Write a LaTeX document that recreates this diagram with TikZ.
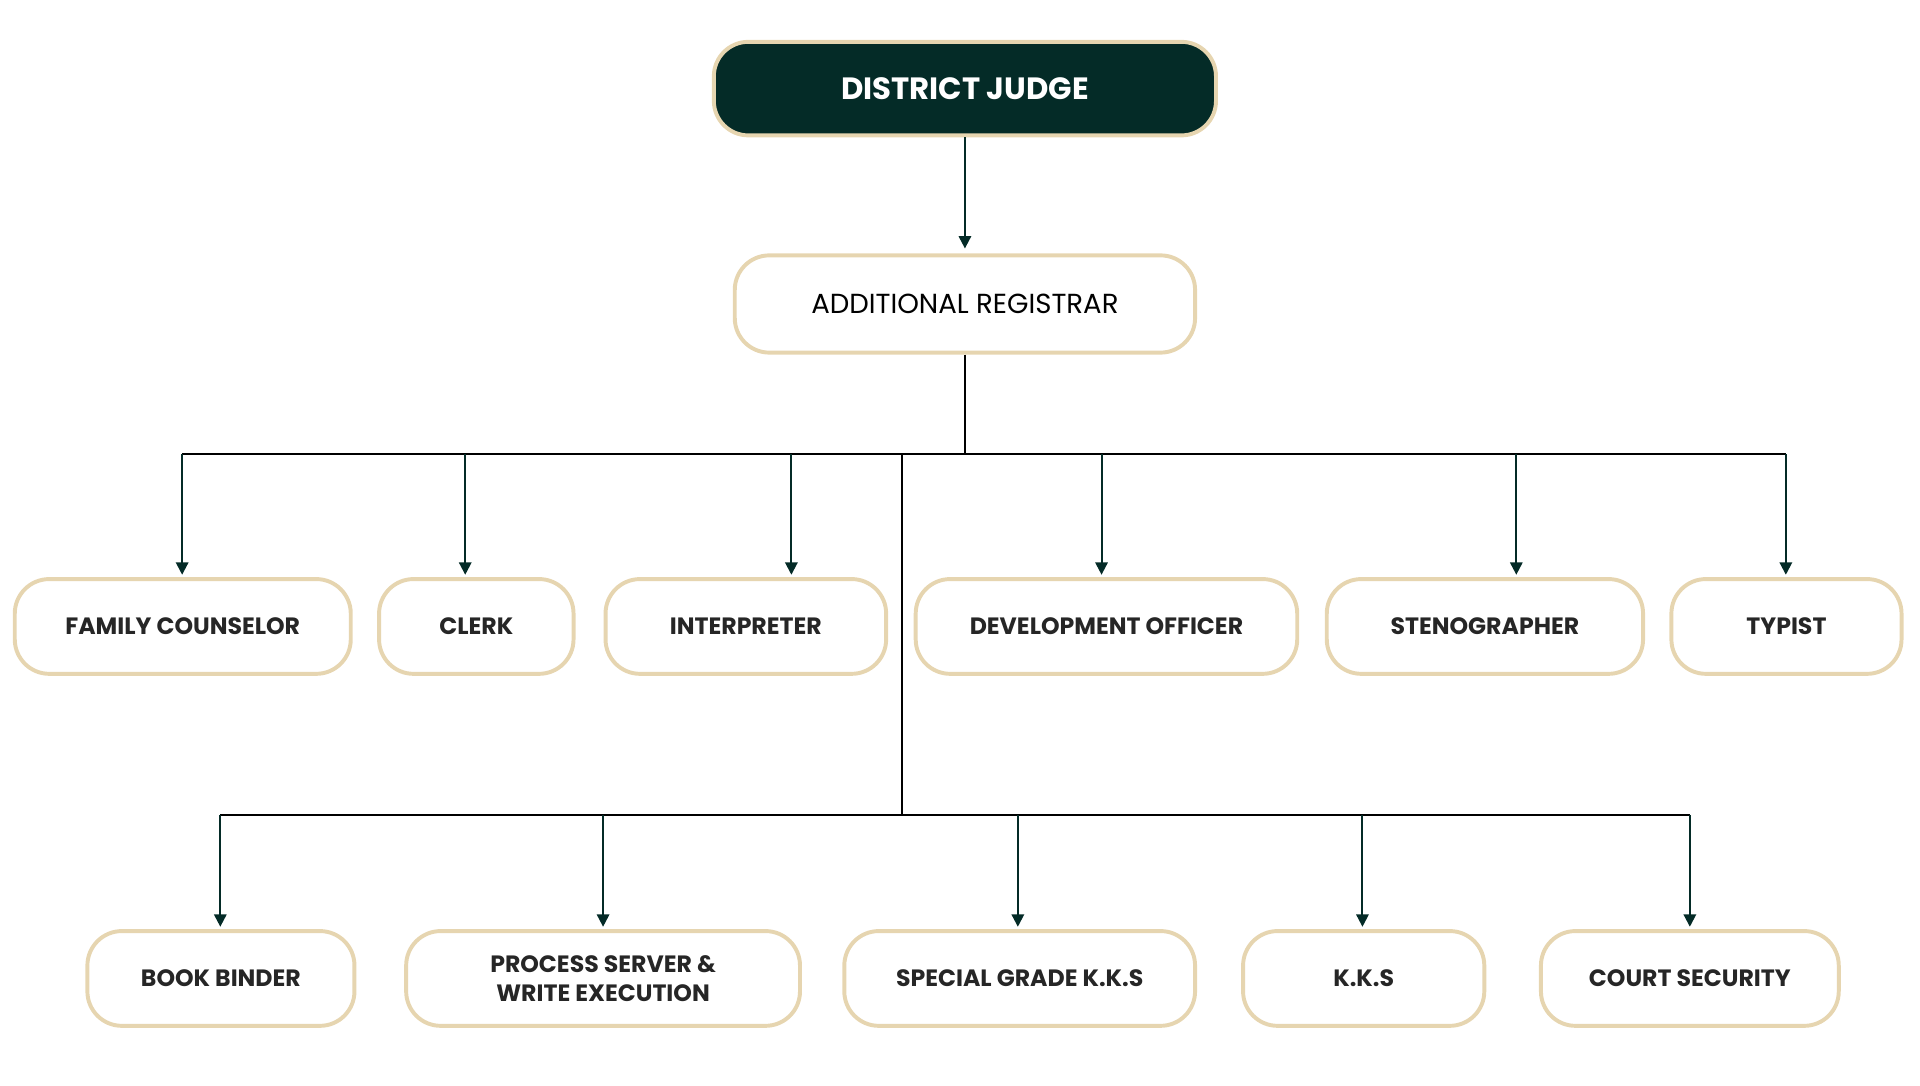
\documentclass[tikz,border=0pt]{standalone}
\usepackage{fontspec}
\setmainfont{Poppins}
\usetikzlibrary{arrows.meta}
\definecolor{dk}{HTML}{042B27}
\definecolor{bd}{HTML}{E6D5B0}
\begin{document}
\begin{tikzpicture}[x=0.5pt,y=-0.5pt,
 box/.style={draw=bd,line width=1.6pt,fill=white,rounded corners=14pt,align=center,font=\bfseries\fontsize{9.6}{12}\selectfont,text=black!85},
 ln/.style={draw=black,line width=0.8pt},
 ar/.style={ln,-{Triangle[length=5pt,width=5pt]},color=dk}]
\useasboundingbox (0,0) rectangle (1560,881.6);
\node[box,fill=dk,text=white,minimum width=204pt,minimum height=38pt,font=\bfseries\fontsize{12.5}{14}\selectfont] (dj) at (784,72) {DISTRICT JUDGE};
\node[box,minimum width=187pt,minimum height=39.5pt,font=\fontsize{11.2}{13}\selectfont,text=black] (ar) at (784,247) {ADDITIONAL REGISTRAR};
\foreach \n/\x/\w/\t in {fc/148.5/273/FAMILY COUNSELOR,cl/387/158/CLERK,in/606/228/INTERPRETER,dv/899/310/DEVELOPMENT OFFICER,st/1206.5/257/STENOGRAPHER,ty/1451.5/187/TYPIST}
  \node[box,minimum width=\w*0.5pt,minimum height=38.5pt] (\n) at (\x,509) {\t};
\foreach \n/\x/\w/\t in {bb/179.5/217/BOOK BINDER,ps/490/320/{PROCESS SERVER \&\\WRITE EXECUTION},sg/828.5/285/SPECIAL GRADE K.K.S,kk/1108/196/K.K.S,cs/1373/242/COURT SECURITY}
  \node[box,minimum width=\w*0.5pt,minimum height=38.5pt] (\n) at (\x,795) {\t};
\draw[ar] (dj.south) -- ([yshift=2pt]ar.north);
\coordinate (b0) at (784,369);
\coordinate (t0) at (733,369);
\coordinate (t1) at (733,662);
\draw[ln] (ar.south) -- (b0);
\draw[ln] (148,369) -- (1451,369);
\draw[ln] (t0) -- (t1);
\draw[ln] (179,662) -- (1373,662);
\foreach \n/\x in {fc/148,cl/378,in/643,dv/895,st/1232,ty/1451}{
  \coordinate (c\n) at (\x,369);
  \draw[ar] (c\n) -- (\x,467);}
\foreach \n/\x in {bb/179,ps/490,sg/827,kk/1107,cs/1373}{
  \coordinate (c\n) at (\x,662);
  \draw[ar] (c\n) -- (\x,753);}
\end{tikzpicture}
\end{document}
